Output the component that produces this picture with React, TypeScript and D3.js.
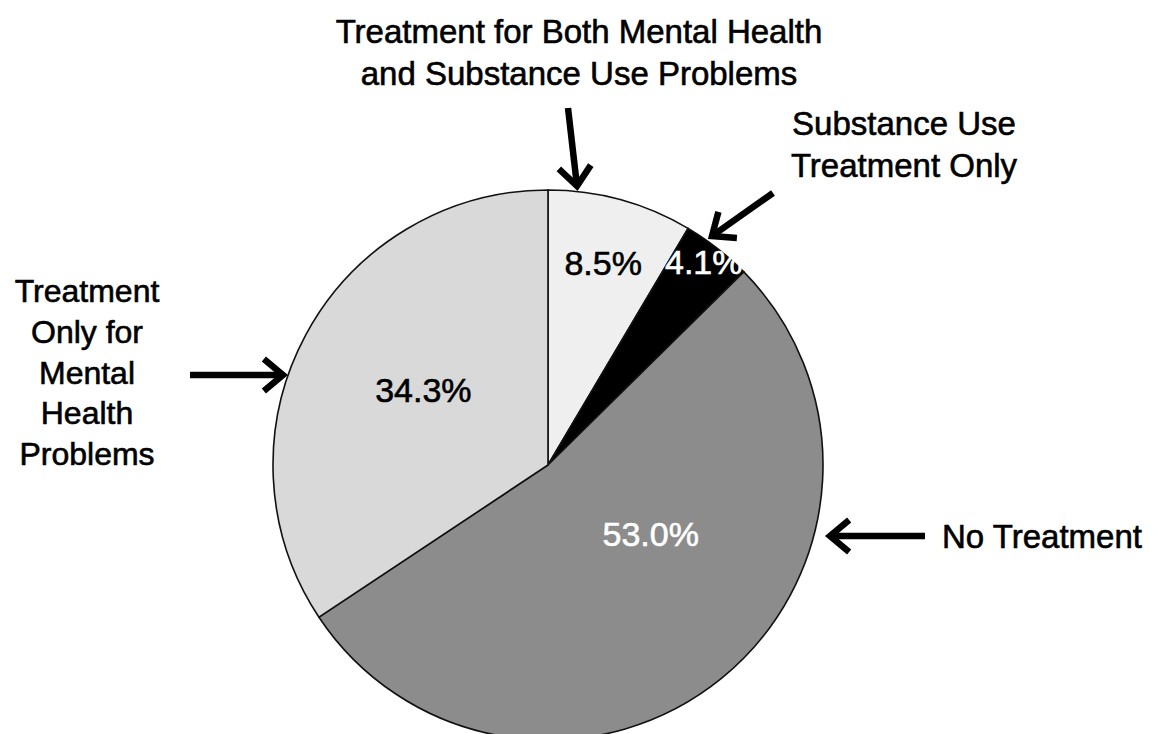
import React from "react";
import * as d3 from "d3";

const categories = [
  "Treatment for Both Mental Health and Substance Use Problems",
  "Substance Use Treatment Only",
  "No Treatment",
  "Treatment Only for Mental Health Problems",
];
const values = [8.5, 4.1, 53.0, 34.3];
const valueLabels = ["8.5%", "4.1%", "53.0%", "34.3%"];
const sliceColors = ["#efefef", "#000000", "#8c8c8c", "#d9d9d9"];
const labelColors = ["#000", "#fff", "#fff", "#000"];
// label placement: [angle offset in degrees from slice middle, radius fraction]
const labelPlacement: [number, number][] = [
  [0, 0.76],
  [-0.5, 0.93],
  [-17, 0.45],
  [3, 0.53],
];

const W = 1164;
const H = 734;
const cx = 548;
const cy = 465;
const R = 275;
const FONT = "'Liberation Sans', Arial, Helvetica, sans-serif";

function Arrow({ x1, y1, x2, y2 }: { x1: number; y1: number; x2: number; y2: number }) {
  const ang = Math.atan2(y2 - y1, x2 - x1);
  const hl = 25;
  const spread = (40 * Math.PI) / 180;
  const ax = x2 - hl * Math.cos(ang - spread);
  const ay = y2 - hl * Math.sin(ang - spread);
  const bx = x2 - hl * Math.cos(ang + spread);
  const by = y2 - hl * Math.sin(ang + spread);
  const sx = x2 - 5 * Math.cos(ang);
  const sy = y2 - 5 * Math.sin(ang);
  return (
    <g stroke="#000" strokeWidth={6.5} fill="none" strokeLinecap="butt" strokeLinejoin="miter">
      <line x1={x1} y1={y1} x2={sx} y2={sy} />
      <path d={`M${ax},${ay} L${x2},${y2} L${bx},${by}`} />
    </g>
  );
}

const txt = { stroke: "#000", strokeWidth: 0.6, fill: "#000" };

export default function App() {
  const pie = d3
    .pie<number>()
    .sort(null)
    .value((d) => d)
    .startAngle(0)
    .endAngle(2 * Math.PI);
  const arcs = pie(values);
  const arc = d3.arc<d3.PieArcDatum<number>>().innerRadius(0).outerRadius(R);

  const leftLines = ["Treatment", "Only for", "Mental", "Health", "Problems"];

  return (
    <svg
      width={W}
      height={H}
      style={{ position: "absolute", left: 0, top: 0, background: "#fff" }}
      fontFamily={FONT}
    >
      <rect x={0} y={0} width={W} height={H} fill="#fff" />
      <g transform={`translate(${cx},${cy})`}>
        {arcs.map((a, i) => (
          <path key={categories[i]} d={arc(a) || ""} fill={sliceColors[i]} stroke="#111" strokeWidth={1.6} />
        ))}
        {arcs.map((a, i) => {
          const mid = (a.startAngle + a.endAngle) / 2 + (labelPlacement[i][0] * Math.PI) / 180;
          const r = R * labelPlacement[i][1];
          const x = r * Math.sin(mid);
          const y = -r * Math.cos(mid);
          return (
            <text
              key={valueLabels[i]}
              x={x}
              y={y}
              textAnchor="middle"
              dominantBaseline="central"
              fontSize={34}
              fill={labelColors[i]}
              stroke={labelColors[i]}
              strokeWidth={0.6}
            >
              {valueLabels[i]}
            </text>
          );
        })}
      </g>

      {/* top label */}
      <text x={579} y={43} textAnchor="middle" fontSize={33} {...txt}>
        Treatment for Both Mental Health
      </text>
      <text x={579} y={85} textAnchor="middle" fontSize={33} {...txt}>
        and Substance Use Problems
      </text>
      <Arrow x1={568} y1={108} x2={577} y2={186} />

      {/* substance use label */}
      <text x={904} y={135} textAnchor="middle" fontSize={33} {...txt}>
        Substance Use
      </text>
      <text x={904} y={177} textAnchor="middle" fontSize={33} {...txt}>
        Treatment Only
      </text>
      <Arrow x1={773} y1={193} x2={712} y2={236} />

      {/* left label */}
      {leftLines.map((t, i) => (
        <text key={t} x={87} y={302 + i * 40.75} textAnchor="middle" fontSize={32} {...txt}>
          {t}
        </text>
      ))}
      <Arrow x1={190} y1={375} x2={283} y2={375} />

      {/* no treatment */}
      <text x={942} y={548} textAnchor="start" fontSize={33} {...txt}>
        No Treatment
      </text>
      <Arrow x1={925} y1={536} x2={830} y2={536} />
    </svg>
  );
}
